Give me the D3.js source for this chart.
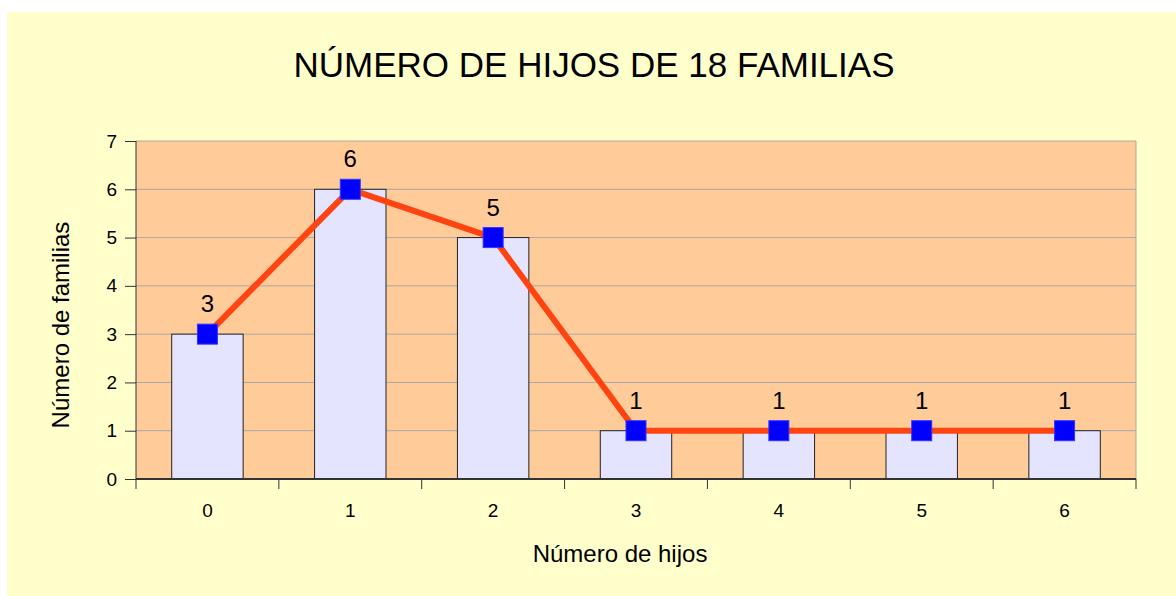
<!DOCTYPE html>
<html>
<head>
<meta charset="utf-8">
<script src="https://cdn.jsdelivr.net/npm/d3@7"></script>
<style>
	body { margin: 0; background: #ffffff; }
	text { font-family: "Liberation Sans", Arial, sans-serif; fill: #000; }
	.axis path, .axis line { stroke: #333; }
	.axis text { font-size: 19px; }
</style>
</head>
<body>
<div id="chart"></div>
<script>
//Data
var categories = ["0", "1", "2", "3", "4", "5", "6"];
var families = [3, 6, 5, 1, 1, 1, 1];
var yTicks = [0, 1, 2, 3, 4, 5, 6, 7];

var W = 1176, H = 596;
var margin = { top: 141, right: 40, bottom: 117, left: 136 };
var width = 1000;
var height = 338;

var root = d3.select('#chart')
	.append('svg')
	.attr('width', W)
	.attr('height', H);

//chart background
root.append('rect')
	.attr('x', 7).attr('y', 12)
	.attr('width', W - 7).attr('height', H - 12)
	.attr('fill', '#ffffcc');

root.append('text')
	.attr('x', 594).attr('y', 77)
	.attr('text-anchor', 'middle')
	.style('font-size', '35px')
	.text('NÚMERO DE HIJOS DE 18 FAMILIAS');

var svg = root.append('g')
	.attr('transform', 'translate(' + margin.left + ',' + margin.top + ')');

//Scales
var x = d3.scaleBand()
	.domain(categories)
	.range([0, width])
	.paddingInner(0.5)
	.paddingOuter(0.25);

var xEdge = d3.scaleBand().domain(categories).range([0, width]);

var y = d3.scaleLinear()
	.domain([0, 7])
	.range([height, 0]);

//plot area
svg.append('rect')
	.attr('width', width).attr('height', height)
	.attr('fill', '#ffcc99');

//gridlines
svg.selectAll('.grid')
	.data(yTicks.slice(1))
	.enter()
	.append('line')
	.attr('class', 'grid')
	.attr('x1', 0).attr('x2', width)
	.attr('y1', function(d) { return y(d); })
	.attr('y2', function(d) { return y(d); })
	.attr('stroke', '#a8a8a8')
	.attr('stroke-width', 1);

svg.append('line')
	.attr('x1', width).attr('x2', width)
	.attr('y1', 0).attr('y2', height)
	.attr('stroke', '#a8a8a8');

//bars
svg.selectAll('.bar')
	.data(families)
	.enter()
	.append('rect')
	.attr('class', 'bar')
	.attr('x', function(d, i) { return x(categories[i]); })
	.attr('y', function(d) { return y(d); })
	.attr('width', x.bandwidth())
	.attr('height', function(d) { return height - y(d); })
	.attr('fill', '#e4e4ff')
	.attr('stroke', '#222')
	.attr('stroke-width', 1);

//Add the y axis
svg.append('g')
	.attr('class', 'y axis')
	.call(d3.axisLeft(y).tickValues(yTicks).tickSize(11).tickPadding(8).tickFormat(d3.format('d')))
	.call(function(g) { g.select('.domain').attr('d', 'M0,' + height + 'V0'); });

//Add the x axis (ticks on band edges)
var xAxis = svg.append('g')
	.attr('class', 'x axis')
	.attr('transform', 'translate(0,' + height + ')');

xAxis.append('line')
	.attr('x1', 0).attr('x2', width)
	.attr('stroke', '#333').attr('stroke-width', 2);

xAxis.selectAll('.edge')
	.data(categories.concat(['end']))
	.enter()
	.append('line')
	.attr('class', 'edge')
	.attr('x1', function(d, i) { return i < categories.length ? xEdge(d) : width; })
	.attr('x2', function(d, i) { return i < categories.length ? xEdge(d) : width; })
	.attr('y1', 0).attr('y2', 10)
	.attr('stroke', '#333');

xAxis.selectAll('.lbl')
	.data(categories)
	.enter()
	.append('text')
	.attr('class', 'lbl')
	.attr('x', function(d) { return x(d) + x.bandwidth() / 2; })
	.attr('y', 38)
	.attr('text-anchor', 'middle')
	.style('font-size', '19px')
	.text(function(d) { return d; });

//axis labels
root.append('text')
	.attr('x', 620).attr('y', 562)
	.attr('text-anchor', 'middle')
	.style('font-size', '24px')
	.text('Número de hijos');

root.append('text')
	.attr('transform', 'translate(69,325) rotate(-90)')
	.attr('text-anchor', 'middle')
	.style('font-size', '24px')
	.text('Número de familias');

//polygon line
var line = d3.line()
	.x(function(d, i) { return x(categories[i]) + x.bandwidth() / 2; })
	.y(function(d) { return y(d); });

svg.append('path')
	.datum(families)
	.attr('d', line)
	.attr('fill', 'none')
	.attr('stroke', '#ff4411')
	.attr('stroke-width', 6)
	.attr('stroke-linejoin', 'round');

//markers
svg.selectAll('.marker')
	.data(families)
	.enter()
	.append('rect')
	.attr('class', 'marker')
	.attr('x', function(d, i) { return x(categories[i]) + x.bandwidth() / 2 - 10; })
	.attr('y', function(d) { return y(d) - 10; })
	.attr('width', 20).attr('height', 20)
	.attr('fill', '#0000ff')
	.attr('stroke', '#3333ff')
	.attr('stroke-width', 1);

//data labels
svg.selectAll('.val')
	.data(families)
	.enter()
	.append('text')
	.attr('class', 'val')
	.attr('x', function(d, i) { return x(categories[i]) + x.bandwidth() / 2; })
	.attr('y', function(d) { return y(d) - 22; })
	.attr('text-anchor', 'middle')
	.style('font-size', '24px')
	.text(function(d) { return d; });
</script>
</body>
</html>
